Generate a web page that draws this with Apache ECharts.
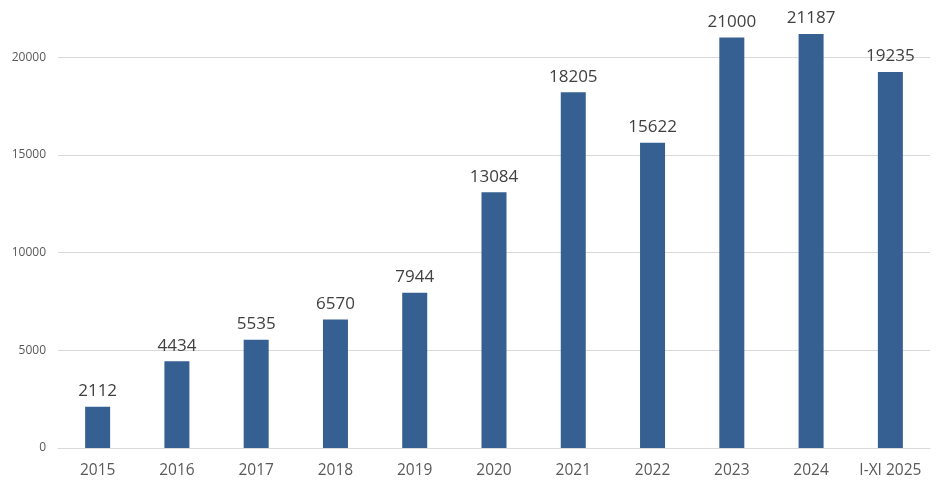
<!DOCTYPE html>
<html>
<head>
<meta charset="utf-8">
<script src="https://cdn.jsdelivr.net/npm/echarts@6/dist/echarts.min.js"></script>
<style>
  html, body { margin: 0; padding: 0; background: #fff; }
  #chart { width: 948px; height: 494px; }
</style>
</head>
<body>
<div id="chart"></div>
<script>
var categories = ['2015', '2016', '2017', '2018', '2019', '2020', '2021', '2022', '2023', '2024', 'I-XI 2025'];
var values = [2112, 4434, 5535, 6570, 7944, 13084, 18205, 15622, 21000, 21187, 19235];

var chart = echarts.init(document.getElementById('chart'));
var option = {
  backgroundColor: '#fff',
  animation: false,
  grid: { left: 58, right: 18, top: 18, bottom: 46, containLabel: false },
  xAxis: {
    type: 'category',
    data: categories,
    axisLine: { lineStyle: { color: '#d9d9d9', width: 1 } },
    axisTick: { show: false },
    axisLabel: { interval: 0, color: '#595959', fontSize: 15.5, fontFamily: 'Open Sans', margin: 15 }
  },
  yAxis: {
    type: 'value',
    min: 0,
    max: 22000,
    interval: 5000,
    axisLine: { show: false },
    axisTick: { show: false },
    axisLabel: {
      color: '#595959', fontSize: 12, fontFamily: 'Open Sans', margin: 12, showMaxLabel: false,
      formatter: function (v) { return String(v); }
    },
    splitLine: { show: true, showMaxLine: false, lineStyle: { color: '#d9d9d9', width: 1 } }
  },
  series: [{
    type: 'bar',
    data: values,
    barWidth: 25,
    itemStyle: { color: '#365f92' },
    label: {
      show: true,
      position: 'top',
      distance: 7,
      color: '#404040',
      fontSize: 17,
      fontFamily: 'Open Sans'
    }
  }]
};
chart.setOption(option);
</script>
</body>
</html>
